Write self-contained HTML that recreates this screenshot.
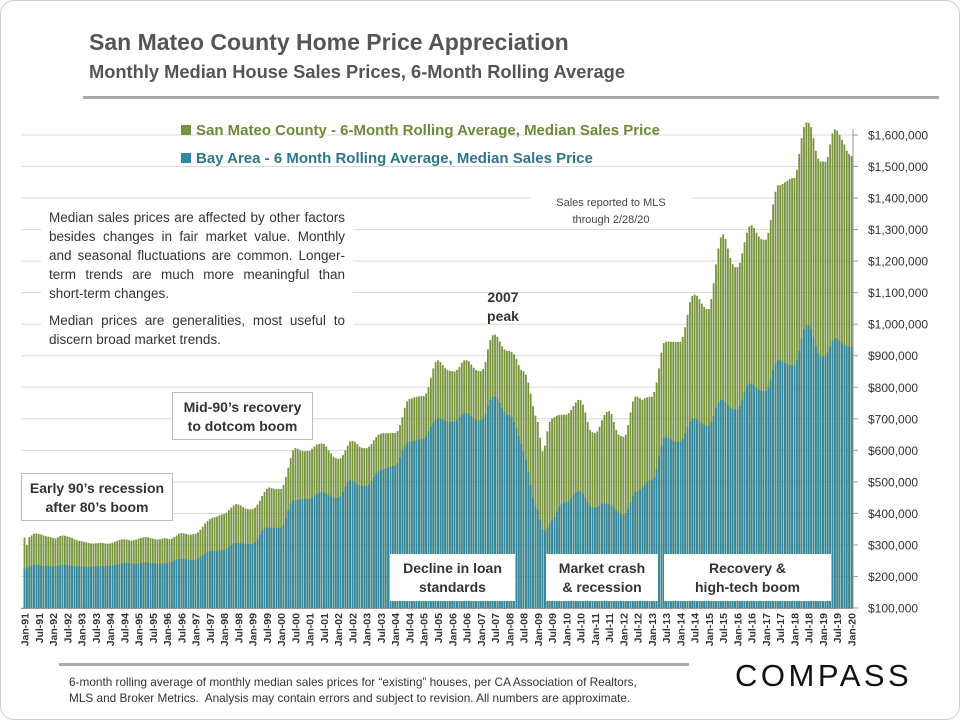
<!DOCTYPE html>
<html><head><meta charset="utf-8">
<style>
body{margin:0;background:#fff;}
#wrap{position:relative;width:958px;height:718px;border:1px solid #cfcfcf;border-radius:14px;overflow:hidden;font-family:"Liberation Sans",sans-serif;background:#fff;}
.abs{position:absolute;}
.box{position:absolute;background:#fff;border:1px solid #bbb;text-align:center;font-weight:bold;font-size:14px;color:#333;line-height:19px;box-sizing:border-box;padding-top:5px;}
</style></head>
<body>
<div id="wrap">
<svg id="chart" class="abs" style="left:0;top:0" width="960" height="720"></svg>
<div class="abs" style="left:88px;top:28px;font-size:23px;font-weight:bold;color:#555;">San Mateo County Home Price Appreciation</div>
<div class="abs" style="left:88px;top:60px;font-size:18.3px;font-weight:bold;color:#555;">Monthly Median House Sales Prices, 6-Month Rolling Average</div>
<div class="abs" style="left:82px;top:95px;width:856px;height:3px;background:#aaa;"></div>
<div class="abs" style="left:180px;top:121px;font-size:15px;font-weight:bold;color:#6f8a36;"><span style="display:inline-block;width:10px;height:10px;background:#77933c;margin-right:5px;"></span>San Mateo County - 6-Month Rolling Average, Median Sales Price</div>
<div class="abs" style="left:180px;top:149px;font-size:15px;font-weight:bold;color:#2e7689;"><span style="display:inline-block;width:10px;height:10px;background:#31859c;margin-right:5px;"></span>Bay Area - 6 Month Rolling Average, Median Sales Price</div>
<div class="abs" style="left:40px;top:207px;width:312px;padding:0 8px;box-sizing:border-box;background:#fff;font-size:13.5px;color:#333;line-height:19px;text-align:justify;">
<div style="text-align-last:left">Median sales prices are affected by other factors besides changes in fair market value. Monthly and seasonal fluctuations are common. Longer-term trends are much more meaningful than short-term changes.</div>
<div style="margin-top:8px;text-align-last:left">Median prices are generalities, most useful to discern broad market trends.</div>
</div>
<div class="abs" style="left:530px;top:194px;width:160px;text-align:center;font-size:11px;color:#444;line-height:17px;background:#fff;">Sales reported to MLS<br>through 2/28/20</div>
<div class="abs" style="left:470px;top:287px;width:64px;text-align:center;font-size:14px;font-weight:bold;color:#333;line-height:19px;">2007<br>peak</div>
<div class="box" style="left:171px;top:391px;width:141px;height:48px;">Mid-90’s recovery<br>to dotcom boom</div>
<div class="box" style="left:20px;top:472px;width:152px;height:48px;">Early 90’s recession<br>after 80’s boom</div>
<div class="box" style="left:389px;top:553px;width:125px;height:47px;border:none;">Decline in loan<br>standards</div>
<div class="box" style="left:545px;top:553px;width:112px;height:47px;border:none;">Market crash<br>&amp; recession</div>
<div class="box" style="left:663px;top:553px;width:167px;height:47px;border:none;">Recovery &amp;<br>high-tech boom</div>
<div class="abs" style="left:58px;top:662px;width:630px;height:3px;background:#aaa;"></div>
<div class="abs" style="left:68px;top:673px;width:640px;font-size:11.8px;color:#333;line-height:16px;">6-month rolling average of monthly median sales prices for “existing” houses, per CA Association of Realtors,<br>MLS and Broker Metrics.&nbsp; Analysis may contain errors and subject to revision. All numbers are approximate.</div>
<div class="abs" style="left:734px;top:657px;font-size:31px;letter-spacing:3.5px;color:#111;">COMPASS</div>
</div>
<script>
const sanMateo = [
323,300,325,330,335,336,335,333,330,328,326,325,
322,320,324,328,330,329,327,325,322,318,315,313,
312,310,308,306,305,304,305,306,307,306,305,304,
305,307,310,313,316,318,318,317,315,314,315,317,
320,322,324,325,324,322,320,318,317,318,320,322,
320,318,320,325,330,335,338,337,335,333,332,334,
336,340,348,358,368,376,382,386,388,390,394,397,
398,402,410,418,425,429,428,425,420,416,414,413,
414,418,428,440,455,468,478,482,480,478,477,477,
477,490,515,545,575,600,607,605,600,598,597,598,
598,605,612,618,620,622,620,612,600,590,580,575,
573,575,585,600,615,628,630,627,620,612,608,607,
607,612,620,632,642,650,653,655,654,654,655,655,
655,662,680,705,735,755,763,765,768,770,771,772,
772,780,800,830,860,880,885,880,870,860,855,852,
851,850,855,865,878,885,886,882,872,862,855,852,
851,858,880,920,950,965,967,960,945,930,920,915,
915,912,905,890,870,855,851,840,815,780,740,710,
690,640,597,615,660,690,701,705,710,712,713,713,
713,718,728,740,752,760,759,745,720,690,665,657,
655,660,675,695,712,722,724,715,690,665,650,645,
643,650,680,720,755,770,770,765,760,765,768,770,
770,785,815,860,910,940,944,945,944,943,944,944,
944,960,990,1030,1070,1090,1094,1090,1080,1065,1055,1048,
1048,1080,1130,1190,1240,1275,1285,1270,1240,1210,1190,1181,
1181,1195,1225,1260,1290,1310,1314,1305,1290,1278,1270,1268,
1268,1290,1330,1380,1420,1440,1441,1445,1450,1455,1460,1464,
1464,1490,1540,1590,1625,1640,1638,1625,1590,1550,1525,1516,
1516,1515,1530,1570,1605,1618,1614,1600,1585,1570,1550,1540,
1533];
const bayArea = [
224,228,232,235,236,237,236,235,234,234,233,233,
233,232,234,236,237,237,236,235,234,233,232,232,
232,231,230,230,231,232,233,233,233,233,233,234,
234,235,236,238,240,242,243,243,242,241,240,240,
241,242,244,245,244,243,242,241,240,240,241,242,
242,244,246,250,254,256,256,255,254,253,252,252,
252,256,262,268,274,278,280,281,281,282,283,284,
284,288,294,300,305,307,306,305,304,303,303,303,
303,308,318,332,345,352,355,355,354,354,354,355,
355,365,385,410,430,440,442,443,444,445,446,446,
446,450,456,462,465,467,466,463,458,453,450,449,
449,455,468,485,498,505,503,498,492,488,487,487,
487,492,502,515,527,535,537,540,543,546,548,550,
550,560,578,600,615,623,626,628,630,632,634,636,
636,645,660,675,688,697,701,700,697,694,692,690,
690,692,697,705,713,718,718,715,708,700,696,695,
695,700,715,740,760,770,770,765,750,735,722,713,
713,705,690,670,645,620,597,570,530,490,450,425,
412,380,350,343,355,368,377,390,405,420,430,435,
435,440,448,458,466,470,470,462,448,435,425,420,
418,420,425,430,432,430,429,425,418,410,402,398,
395,400,415,435,455,468,470,475,482,490,498,505,
505,515,540,580,615,638,643,640,635,630,627,626,
626,635,655,675,692,700,701,698,692,686,681,678,
678,690,710,735,752,760,759,752,742,735,731,730,
730,740,760,785,805,812,811,805,798,792,789,788,
788,800,825,855,875,885,886,882,877,873,870,869,
869,885,915,955,985,998,996,985,960,930,908,898,
898,900,910,930,948,956,955,948,940,935,930,928,
927];
const yTicks = [100,200,300,400,500,600,700,800,900,1000,1100,1200,1300,1400,1500,1600];
const startYear = 1991;

const svg = document.getElementById('chart');
const NS = 'http://www.w3.org/2000/svg';
const X0 = 23.5, X1 = 850.5, Y0 = 607, Y1 = 134;
const n = sanMateo.length;
const step = (X1 - X0) / (n - 1);
function xPos(i){ return X0 + i * step; }
function yPos(v){ return Y0 - (v - 100) / 1500 * (Y0 - Y1); }
function mk(tag, attrs){ const e = document.createElementNS(NS, tag); for (const k in attrs) e.setAttribute(k, attrs[k]); svg.appendChild(e); return e; }

yTicks.forEach(t => {
  const y = yPos(t);
  const g = mk('line', {x1: 20, x2: 852, y1: y, y2: y, stroke: '#d9d9d9', 'stroke-width': 1});
  
  
  const tk = mk('line', {x1: 852, x2: 857, y1: y, y2: y, stroke: '#999', 'stroke-width': 1});
  
  
  const lb = mk('text', {x: 867, y: y + 4.5, 'font-size': 12, fill: '#333', 'font-family': 'Liberation Sans, sans-serif'});
  lb.textContent = '$' + (t * 1000).toLocaleString('en-US');
  
  
});
const ax = mk('line', {x1: 852, x2: 852, y1: 128, y2: Y0, stroke: '#999', 'stroke-width': 1});



const bw = 1.8;
sanMateo.forEach((v, i) => {
  const r = mk('rect', {x: xPos(i) - bw / 2, y: yPos(v), width: bw, height: Y0 - yPos(v), fill: '#77933c'});
  
  
});
bayArea.forEach((v, i) => {
  const r = mk('rect', {x: xPos(i) - bw / 2, y: yPos(v), width: bw, height: Y0 - yPos(v), fill: '#31859c'});
  
  
});
const bx = mk('line', {x1: 20, x2: 852, y1: Y0 + 0.5, y2: Y0 + 0.5, stroke: '#999', 'stroke-width': 1});



for (let i = 0; i < n; i += 6) {
  const yr = (startYear + Math.floor(i / 12)) % 100;
  const lbl = (i % 12 === 0 ? 'Jan-' : 'Jul-') + String(yr).padStart(2, '0');
  const x = xPos(i);
  const t = mk('text', {x: 0, y: 0, 'font-size': 10.5, fill: '#333', 'font-weight': 'bold', 'text-anchor': 'end', 'font-family': 'Liberation Sans, sans-serif', transform: `translate(${x + 4},612) rotate(-90)`});
  t.textContent = lbl;
  
  
}
</script>
</body></html>
